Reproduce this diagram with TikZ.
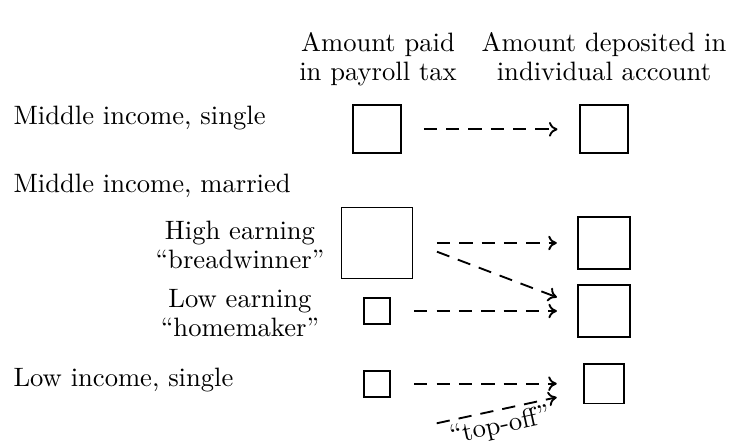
\documentclass[tikz,border=0pt]{standalone}
\usetikzlibrary{arrows.meta,calc}
\begin{document}
\begin{tikzpicture}[x=0.376pt,y=-0.376pt,
  sqbox/.style={draw,line width=0.65pt,inner sep=0pt,minimum size=#1},
  lbl/.style={inner sep=0pt,font=\fontsize{10}{11}\selectfont},
  arr/.style={line width=0.7pt,dash pattern=on 5pt off 3.4pt,-{To[length=3.2pt,width=5.5pt]}}]
\useasboundingbox (0,0) rectangle (729,441);
% headers
\node[lbl,align=center] (hdrL) at (378,59) {Amount paid\\in payroll tax};
\node[lbl,align=center] (hdrR) at (604,56.5) {Amount deposited in\\individual account};
% row labels
\node[lbl,anchor=base west] (ms) at (13,125) {Middle income, single};
\node[lbl,anchor=base west] (mm) at (13,192) {Middle income, married};
\node[lbl,align=center] (he) at (240,245) {High earning\\``breadwinner''};
\node[lbl,align=center] (le) at (240,313) {Low earning\\``homemaker''};
\node[lbl,anchor=base west] (ls) at (13,387) {Low income, single};
% boxes
\node[sqbox=18pt] (a1) at (377,129.3) {};
\node[sqbox=18pt] (b1) at (604,129.3) {};
\node[sqbox=26.6pt] (a2) at (377,243) {};
\node[sqbox=19.8pt] (b2) at (604,243) {};
\node[sqbox=9.8pt] (a3) at (377,311) {};
\node[sqbox=19.7pt] (b3) at (604,311) {};
\node[sqbox=9.8pt] (a4) at (377,383.7) {};
\node[sqbox=14.8pt] (b4) at (604,383.7) {};
% arrows
\draw[arr] ($(a1.east)+(22,0)$) -- ($(b1.west)+(-21.7,0)$);
\draw[arr] ($(a2.east)+(23.7,0)$) -- ($(b2.west)+(-20,0)$);
\draw[arr] ($(a2.east)+(23.7,8.7)$) -- ($(b3.west)+(-20,-13.7)$);
\draw[arr] ($(a3.east)+(23.3,0)$) -- ($(b3.west)+(-20,0)$);
\draw[arr] ($(a4.east)+(23.3,0)$) -- ($(b4.west)+(-26.7,0)$);
\coordinate (tf) at (436.7,423.3);
\draw[arr] (tf) -- node[sloped,below,pos=0.5,inner sep=1.3pt,font=\fontsize{10}{11}\selectfont] (tftext) {``top-off''} ($(b4.west)+(-26.7,13.6)$);
\end{tikzpicture}
\end{document}
